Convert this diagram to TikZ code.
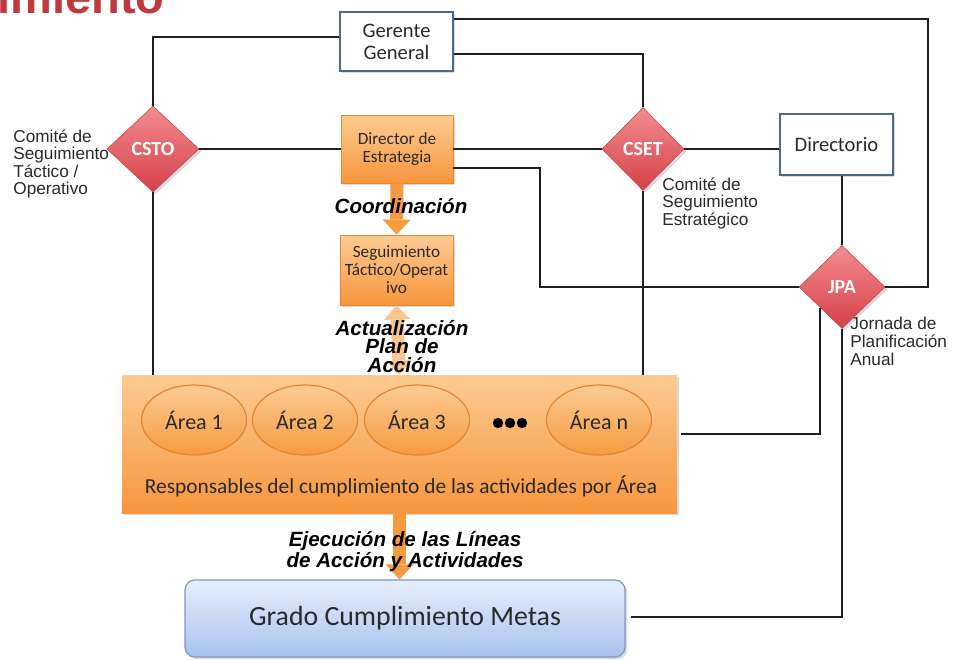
\documentclass[tikz,border=0pt]{standalone}
\usepackage{fontspec}
\setmainfont{Carlito}
\newfontfamily\arialfont{Liberation Sans}
\usetikzlibrary{shapes.geometric,arrows.meta,calc,shadows}
\definecolor{linec}{HTML}{1E1E1E}
\definecolor{boxline}{HTML}{4A6A8A}
\definecolor{orT}{HTML}{FCCB92}
\definecolor{orB}{HTML}{F7963E}
\definecolor{orD}{HTML}{E5852F}
\definecolor{orA}{HTML}{F69A40}
\definecolor{orL}{HTML}{F9C690}
\definecolor{rdT}{HTML}{F28C8F}
\definecolor{rdB}{HTML}{D6404A}
\definecolor{rdD}{HTML}{C9454B}
\definecolor{blT}{HTML}{E6EEFB}
\definecolor{blB}{HTML}{A8C2EE}
\definecolor{blD}{HTML}{7F98BC}
\definecolor{titlered}{HTML}{C0393E}
\definecolor{txt}{HTML}{2A2A2A}
\tikzset{
  conn/.style={draw=linec, line width=1pt},
  softshadow/.style={drop shadow={opacity=0.28, shadow xshift=1.2pt, shadow yshift=-1.2pt}},
  whitebox/.style={draw=boxline, line width=1.2pt, fill=white, align=center, inner sep=0pt,
    text=txt, font=\fontsize{10.3}{11}\selectfont, softshadow},
  orangebox/.style={top color=orT, bottom color=orB, draw=orD, line width=0.4pt, align=center,
    inner sep=0pt, text=txt, font=\fontsize{8.6}{9}\selectfont, softshadow},
  diam/.style={diamond, inner sep=0pt, top color=rdT, bottom color=rdB, draw=rdD, line width=0.3pt,
    text=white, font=\bfseries\fontsize{10}{10}\selectfont, softshadow},
  areaell/.style={ellipse, inner sep=0pt, minimum width=52.5pt, minimum height=35pt,
    top color=orT, bottom color=orA, draw=orD, line width=0.6pt, text=txt,
    font=\fontsize{11}{12}\selectfont},
  lab/.style={inner sep=0pt, align=left, text=txt, font=\arialfont\fontsize{8.6}{8.8}\selectfont},
  arlab/.style={inner sep=0pt, align=center, text=black,
    font=\arialfont\bfseries\itshape\fontsize{10.3}{9.2}\selectfont},
  barrow/.style={draw=orA, line width=6.5pt, -{Triangle[width=14pt,length=7.5pt,line width=0pt]}},
  darrow/.style={draw=orL, line width=6.5pt,
    {Triangle[width=13pt,length=7pt,line width=0pt]}-{Triangle[width=13pt,length=7pt,line width=0pt]}},
}
\begin{document}
\begin{tikzpicture}[x=0.5pt,y=-0.5pt]
\useasboundingbox (0,0) rectangle (956,659);
\fill[white] (0,0) rectangle (956,659);
\begin{scope}
  \clip (0,0) rectangle (956,659);
  \node[anchor=base west, inner sep=0pt, text=titlered,
    font=\arialfont\bfseries\fontsize{23.5}{24}\selectfont] (title) at (-3,13) {imiento};
\end{scope}

% boxes
\node[whitebox, minimum width=56.5pt, minimum height=29.5pt] (gg) at (396.5,41.5) {Gerente\\General};
\node[whitebox, minimum width=56.5pt, minimum height=30.5pt] (dir) at (836.5,144.5) {Directorio};
\node[orangebox, minimum width=56pt, minimum height=34pt] (de) at (397,149) {Director de\\Estrategia};
\node[orangebox, minimum width=56.5pt, minimum height=35pt] (seg) at (396.5,270) {Seguimiento\\Táctico/Operat\\ivo};
\node[orangebox, draw=none, minimum width=277.5pt, minimum height=69pt] (big) at (399.5,444) {};
\node[draw=blD, line width=0.6pt, rounded corners=5pt, top color=blT, bottom color=blB,
  minimum width=220pt, minimum height=38.5pt, inner sep=0pt, text=txt,
  font=\fontsize{13.9}{15}\selectfont, softshadow] (grado) at (405,618.5) {Grado Cumplimiento Metas};

% diamonds
\node[diam, minimum width=46pt, minimum height=43pt] (csto) at (153,149) {CSTO};
\node[diam, minimum width=41pt, minimum height=41.5pt] (cset) at (643,149) {CSET};
\node[diam, minimum width=43pt, minimum height=41.5pt] (jpa) at (842,287) {JPA};

% areas
\node[areaell] (a1) at (194,420) {Área 1};
\node[areaell] (a2) at (305,420) {Área 2};
\node[areaell] (a3) at (417,420) {Área 3};
\node[areaell] (an) at (599,420) {Área n};
\fill[black] (498,423) circle (2.6pt) (510,423) circle (2.6pt) (522,423) circle (2.6pt);
\node[anchor=base, inner sep=0pt, text=txt, font=\fontsize{10.7}{11}\selectfont] (resp) at (401,493)
  {Responsables del cumplimiento de las actividades por Área};

% connectors
\coordinate (kR) at ($(jpa.east)+(43,0)$);
\coordinate (kL) at ($(jpa.west)+(-259,0)$);
\draw[conn] ($(gg.west)+(0,-4.5)$) -| (csto.north);
\draw[conn] ($(gg.east)+(0,-22.5)$) -| (kR) -- (jpa.east);
\draw[conn] ($(gg.east)+(0,12.5)$) -| (cset.north);
\draw[conn] (csto.east) -- (de.west);
\draw[conn] (de.east) -- (cset.west);
\draw[conn] ($(de.east)+(0,19)$) -| (kL) -- (jpa.west);
\draw[conn] (cset.east) -- (cset.east -| dir.west);
\draw[conn] (dir.south -| jpa.north) -- (jpa.north);
\draw[conn] (csto.south) -- (csto.south |- big.north);
\draw[conn] (cset.south) -- (cset.south |- big.north);
\draw[conn] ($(big.east)+(4,-10)$) -| (jpa.south west);
\draw[conn] (jpa.south) |- ($(grado.east)+(5,-1.5)$);

% block arrows
\draw[barrow] (de.south) -- (seg.north);
\draw[darrow] (seg.south) -- (big.north);
\draw[barrow] (big.south) -- (big.south |- grado.north);

% labels
\node[lab, anchor=north west] (lcsto) at (13,129) {Comité de\\Seguimiento\\Táctico /\\Operativo};
\node[lab, anchor=north west] (lcset) at (662,177) {Comité de\\Seguimiento\\Estratégico};
\node[lab, anchor=north west] (ljpa) at (850,317) {Jornada de\\Planificación\\Anual};
\node[arlab, anchor=base] (lcoord) at (401,213) {Coordinación};
\node[arlab, anchor=north] (lact) at (402,320) {Actualización\\Plan de\\Acción};
\node[arlab, anchor=north, font=\arialfont\bfseries\itshape\fontsize{10.3}{8.5}\selectfont] (lejec) at (405,531)
  {Ejecución de las Líneas\\de Acción y Actividades};
\end{tikzpicture}
\end{document}
